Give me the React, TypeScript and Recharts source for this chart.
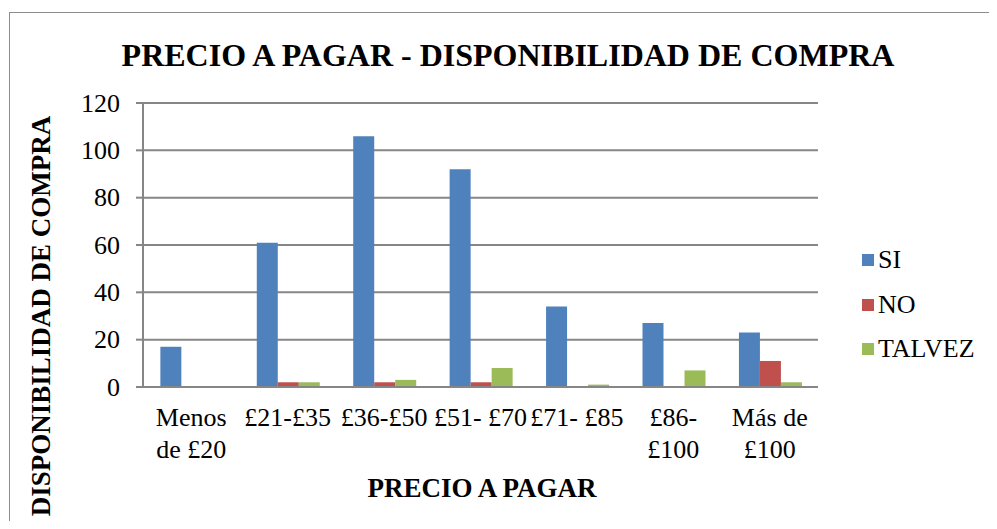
import { BarChart, Bar, XAxis, YAxis, CartesianGrid } from "recharts";

const categories = ["Menos\nde £20", "£21-£35", "£36-£50", "£51- £70", "£71- £85", "£86-\n£100", "Más de\n£100"];
const si = [17, 61, 106, 92, 34, 27, 23];
const no = [0, 2, 2, 2, 0, 0, 11];
const talvez = [0, 2, 3, 8, 1, 7, 2];
const yTicks = [0, 20, 40, 60, 80, 100, 120];

const seriesNames = ["SI", "NO", "TALVEZ"];
const colors = ["#4F81BD", "#C0504D", "#9BBB59"];

const data = categories.map((c, i) => ({ cat: c, SI: si[i], NO: no[i], TALVEZ: talvez[i] }));

const serif = "'Liberation Serif', 'Times New Roman', serif";
const grey = "#868686";

function XTick(props: any) {
  const { x, y, payload } = props;
  const lines = String(payload.value).split("\n");
  return (
    <text x={x} y={y} textAnchor="middle" fontFamily={serif} fontSize={26} fill="#000">
      {lines.map((l, i) => (
        <tspan key={i} x={x} dy={i === 0 ? 31 : 31.5}>{l}</tspan>
      ))}
    </text>
  );
}

function YTick(props: any) {
  const { x, y, payload } = props;
  return (
    <text x={x - 14} y={y} dy={8.5} textAnchor="end" fontFamily={serif} fontSize={26} fill="#000">
      {payload.value}
    </text>
  );
}

export default function App() {
  return (
    <div style={{ position: "relative", width: 997, height: 529, margin: -8, background: "#fff", overflow: "hidden" }}>
      <div style={{ position: "absolute", left: 9, top: 12, width: 980, height: 530, border: "1px solid #8c8c8c" }} />
      <div style={{ position: "absolute", left: 0, top: 39, width: 1016, textAlign: "center", fontFamily: serif, fontWeight: "bold", fontSize: 32, lineHeight: "32px" }}>
        PRECIO A PAGAR - DISPONIBILIDAD DE COMPRA
      </div>
      <div style={{ position: "absolute", left: 0, top: 475, width: 964, textAlign: "center", fontFamily: serif, fontWeight: "bold", fontSize: 27, lineHeight: "27px" }}>
        PRECIO A PAGAR
      </div>
      <div style={{ position: "absolute", left: 41, top: 316, width: 0, height: 0 }}>
        <div style={{ position: "absolute", left: 0, top: 0, transform: "translate(-50%, -50%) rotate(-90deg)", whiteSpace: "nowrap", fontFamily: serif, fontWeight: "bold", fontSize: 27, lineHeight: "27px" }}>
          DISPONIBILIDAD DE COMPRA
        </div>
      </div>
      <div style={{ position: "absolute", left: 0, top: 0 }}>
        <BarChart width={997} height={529} data={data} margin={{ top: 103, right: 179, left: 83, bottom: 82 }} barCategoryGap="18%" barGap={0}>
          <CartesianGrid vertical={false} stroke={grey} strokeWidth={2} />
          <XAxis dataKey="cat" height={60} tick={<XTick />} tickLine={false} axisLine={{ stroke: grey, strokeWidth: 2 }} interval={0} />
          <YAxis width={60} domain={[0, 120]} ticks={yTicks} tick={<YTick />} tickSize={7} tickLine={{ stroke: grey, strokeWidth: 2 }} axisLine={{ stroke: grey, strokeWidth: 2 }} />
          <Bar dataKey="SI" fill={colors[0]} isAnimationActive={false} />
          <Bar dataKey="NO" fill={colors[1]} isAnimationActive={false} />
          <Bar dataKey="TALVEZ" fill={colors[2]} isAnimationActive={false} />
        </BarChart>
      </div>
      <div style={{ position: "absolute", left: 862, top: 238, fontFamily: serif, fontSize: 26, color: "#000" }}>
        {seriesNames.map((n, i) => (
          <div key={n} style={{ display: "flex", alignItems: "center", height: 44.5 }}>
            <span style={{ display: "inline-block", width: 12, height: 12, background: colors[i], marginRight: 4 }} />
            {n}
          </div>
        ))}
      </div>
    </div>
  );
}
